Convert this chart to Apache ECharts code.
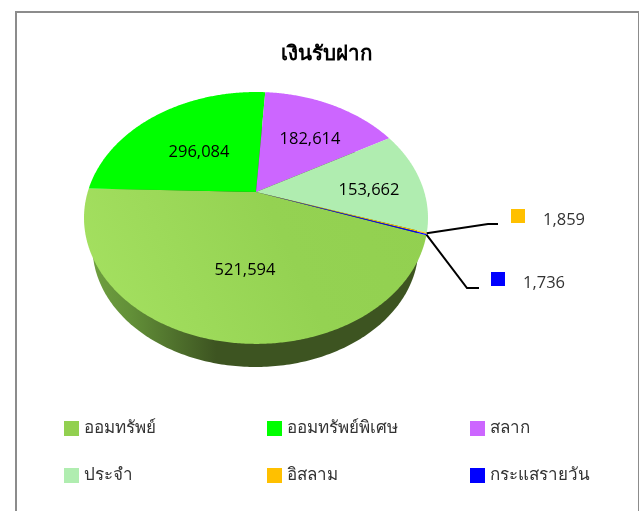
<!DOCTYPE html>
<html>
<head>
<meta charset="utf-8">
<style>
  html, body { margin: 0; padding: 0; background: #fff; overflow: hidden; }
  #chart { width: 639px; height: 511px; }
</style>
<script src="https://cdn.jsdelivr.net/npm/echarts@6/dist/echarts.min.js"></script>
</head>
<body>
<div id="chart"></div>
<script>
const titleText = "เงินรับฝาก";
const names = ["ออมทรัพย์", "ออมทรัพย์พิเศษ", "สลาก", "ประจำ", "อิสลาม", "กระแสรายวัน"];
const values = [521594, 296084, 182614, 153662, 1859, 1736];
const colors = ["#92D050", "#00FF00", "#CC66FF", "#B0EDB0", "#FFC000", "#0000FF"];

// layout of the tilted pie (perspective: hub sits above the ellipse centre)
const hubX = 256, hubY = 192, radX = 168.3, radY = 120.6, tilt = 0.206;
const startDeg = 19.5;
const labelPos = [[245, 270], [199, 152], [310, 139], [369, 190], [564, 220], [544, 283]];
const legendPos = [[64, 420], [267, 420], [470, 420], [64, 467], [267, 467], [470, 467]];
// outside labels: elbow of the leader and the little colour square
const leaders = { 4: { elbow: [488, 224], end: [498, 224], box: [511, 209] },
                  5: { elbow: [467, 288], end: [479, 288], box: [491, 272] } };

const total = values.reduce((a, b) => a + b, 0);
const fmt = n => n.toLocaleString("en-US");

function project(deg) {
  const p = Math.cos(deg * Math.PI / 180), q = Math.sin(deg * Math.PI / 180);
  const d = 1 - tilt * q;
  return [hubX + radX * p / d, hubY + radY * q / d];
}

function sliceAngles(i) {
  const before = values.slice(0, i).reduce((a, b) => a + b, 0);
  return [startDeg + before / total * 360, startDeg + (before + values[i]) / total * 360];
}

function slicePoints(i) {
  const [a, b] = sliceAngles(i);
  const pts = [[hubX, hubY]];
  const steps = Math.max(2, Math.ceil((b - a) * 2));
  for (let s = 0; s <= steps; s++) pts.push(project(a + (b - a) * s / steps));
  return pts;
}

// bottom rim: same circle a bit smaller and lower
function rimPoints() {
  const pts = [];
  for (let d = 0; d < 360; d += 1) {
    const t = d * Math.PI / 180;
    pts.push([255.5 + 163 * Math.cos(t), 247 + 120 * Math.sin(t)]);
  }
  return pts;
}

function renderSlice(i) {
  return function () {
    const children = [];
    if (i === 0) {
      children.push({
        type: "polygon",
        shape: { points: rimPoints() },
        style: {
          fill: {
            type: "linear", x: 0, y: 0, x2: 1, y2: 0,
            colorStops: [
              { offset: 0, color: "#6f9f40" },
              { offset: 0.12, color: "#628f38" },
              { offset: 0.38, color: "#3d5421" },
              { offset: 1, color: "#3d5421" }
            ]
          }
        }
      });
    }
    children.push({
      type: "polygon",
      shape: { points: slicePoints(i) },
      style: {
        fill: i === 0 ? {
          type: "linear", x: 0, y: 1, x2: 1, y2: 0,
          colorStops: [
            { offset: 0, color: "#a6e262" },
            { offset: 0.6, color: "#94d252" },
            { offset: 1, color: "#92D050" }
          ]
        } : colors[i]
      }
    });
    const lead = leaders[i];
    if (lead) {
      const [a, b] = sliceAngles(i);
      const edge = project((a + b) / 2);
      children.push({
        type: "polyline",
        shape: { points: [edge, lead.elbow, lead.end] },
        style: { stroke: "#000", lineWidth: 2, fill: null }
      });
      children.push({
        type: "rect",
        shape: { x: lead.box[0], y: lead.box[1], width: 14, height: 14 },
        style: { fill: colors[i] }
      });
    }
    children.push({
      type: "text",
      x: labelPos[i][0],
      y: labelPos[i][1],
      style: {
        text: fmt(values[i]),
        fill: i < 4 ? "#000" : "#333",
        font: '16.5px "Open Sans", "Noto Sans", sans-serif',
        align: "center",
        verticalAlign: "middle"
      }
    });
    return { type: "group", children: children };
  };
}

const chart = echarts.init(document.getElementById("chart"), null, { renderer: "canvas" });
chart.setOption({
  animation: false,
  backgroundColor: "#fff",
  title: {
    text: titleText,
    left: 321,
    top: 39,
    textAlign: "center",
    textStyle: { color: "#000", fontSize: 20.5, fontWeight: "bold", fontFamily: '"Noto Sans", "DejaVu Sans", sans-serif' }
  },
  graphic: [{
    type: "rect",
    left: 15,
    top: 11,
    shape: { width: 623, height: 520 },
    style: { fill: "#fff", stroke: "#8c8c8c", lineWidth: 2 },
    z: -1,
    silent: true
  }],
  legend: names.map((n, i) => ({
    data: [n],
    left: legendPos[i][0],
    top: legendPos[i][1],
    padding: 0,
    icon: "rect",
    itemWidth: 15,
    itemHeight: 15,
    selectedMode: false,
    textStyle: { color: "#333", fontSize: 17, fontFamily: '"Noto Sans", "DejaVu Sans", sans-serif' }
  })),
  series: names.map((n, i) => ({
    type: "custom",
    name: n,
    coordinateSystem: "none",
    itemStyle: { color: colors[i] },
    data: [values[i]],
    renderItem: renderSlice(i),
    silent: true
  }))
});
</script>
</body>
</html>
